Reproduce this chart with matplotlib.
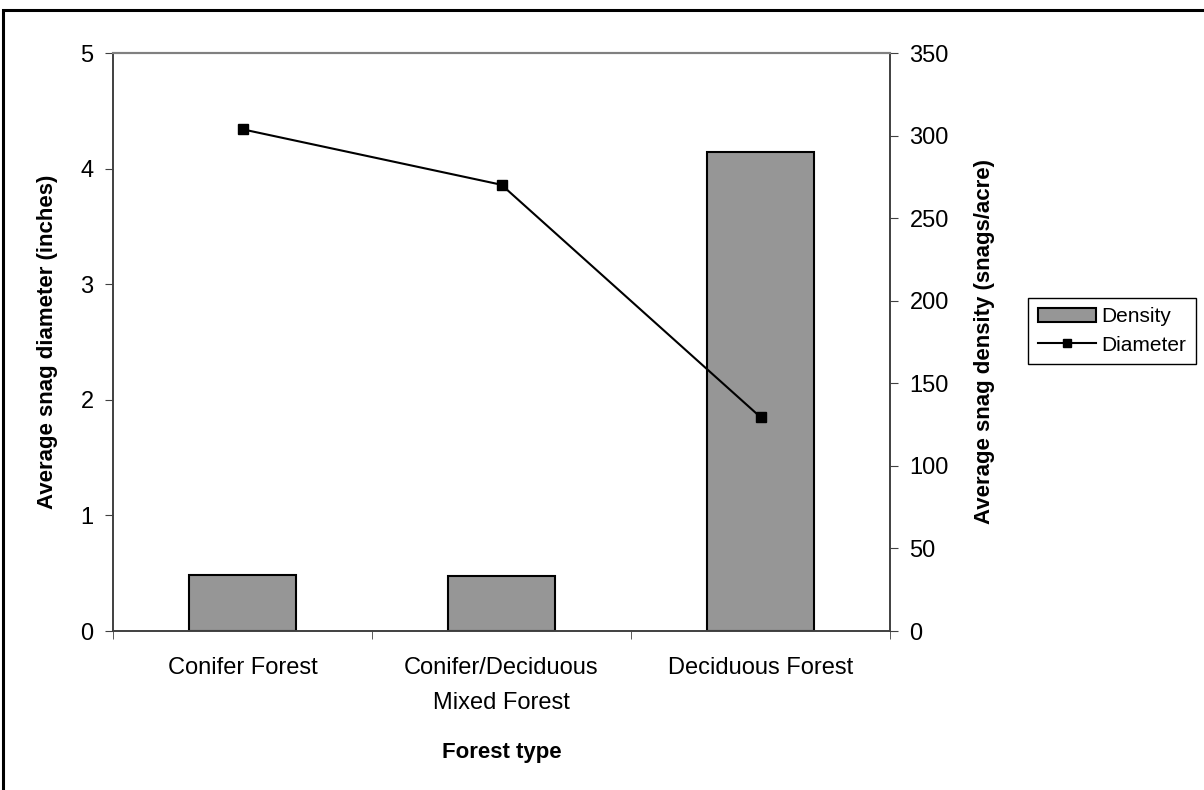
import matplotlib
matplotlib.use("Agg")
import matplotlib.pyplot as plt
from matplotlib.patches import Patch, Rectangle
from matplotlib.lines import Line2D

# Data
forest_types = ["Conifer Forest", "Conifer/Deciduous\nMixed Forest", "Deciduous Forest"]
density = [34.1, 33.3, 290.0]      # snags/acre, right axis
diameter = [4.34, 3.86, 1.85]      # inches, left axis
left_ticks = [0, 1, 2, 3, 4, 5]
right_ticks = [0, 50, 100, 150, 200, 250, 300, 350]

plt.rcParams["font.family"] = ["Liberation Sans", "DejaVu Sans"]
tick_fs = 17
label_fs = 16

fig = plt.figure(figsize=(12.04, 7.9), dpi=100)
ax = fig.add_axes([113 / 1204, 159 / 790, 777 / 1204, 578 / 790])
ax2 = ax.twinx()

x = list(range(len(forest_types)))

# Bars (density) on right axis, drawn below the line
ax2.bar(x, density, width=0.41, color="#969696", edgecolor="black", linewidth=1.5, zorder=1)
ax2.set_ylim(0, 350)
ax2.set_yticks(right_ticks)
ax2.set_ylabel("Average snag density (snags/acre)", fontsize=label_fs, fontweight="bold", labelpad=18)

ax.set_zorder(ax2.get_zorder() + 1)
ax.patch.set_visible(False)
ax.plot(x, diameter, color="black", linewidth=1.5, marker="s", markersize=7, zorder=3)
ax.set_ylim(0, 5)
ax.set_yticks(left_ticks)
ax.set_ylabel("Average snag diameter (inches)", fontsize=label_fs, fontweight="bold", labelpad=16)

ax.set_xlim(-0.5, 2.5)
ax.set_xticks(x)
ax.set_xticklabels(forest_types, fontsize=tick_fs, linespacing=1.75)
ax.tick_params(axis="x", length=0, pad=19)
ax.set_xticks([-0.5, 0.5, 1.5, 2.5], minor=True)
ax.tick_params(axis="x", which="minor", length=6, direction="out", color="#404040")
ax.set_xlabel("Forest type", fontsize=label_fs, fontweight="bold", labelpad=20)

for a in (ax, ax2):
    a.tick_params(axis="y", labelsize=tick_fs, length=6, direction="out", pad=8, color="#404040")
    a.spines["top"].set_color("#808080")
    a.spines["top"].set_linewidth(1.5)
    for s in ("left", "right", "bottom"):
        a.spines[s].set_color("#404040")
        a.spines[s].set_linewidth(1.2)

handles = [
    Patch(facecolor="#969696", edgecolor="black", linewidth=1.5),
    Line2D([0], [0], color="black", linewidth=1.5, marker="s", markersize=6),
]
leg = fig.legend(handles, ["Density", "Diameter"], loc="center left",
                 bbox_to_anchor=(1018 / 1204, 1 - 331 / 790), fontsize=15,
                 frameon=True, fancybox=False, edgecolor="black", framealpha=1,
                 handlelength=2.8, handletextpad=0.25, borderpad=0.45, labelspacing=0.45)
leg.get_frame().set_linewidth(1.0)

# Outer chart border (right and bottom fall outside the image)
fig.patches.append(Rectangle((3 / 1204, -0.05), 1.2, 1 - 10 / 790 + 0.05, transform=fig.transFigure,
                             fill=False, edgecolor="black", linewidth=2.2))

fig.savefig("out.png", dpi=100)
